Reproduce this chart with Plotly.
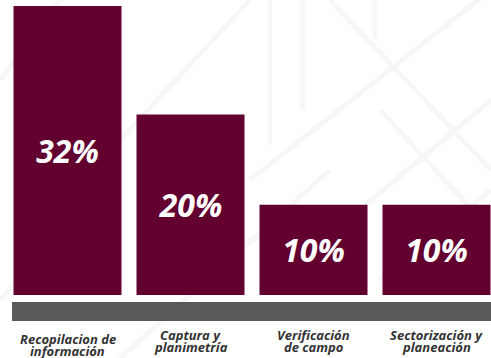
import plotly.graph_objects as go

# ---- data ----
categories = ["Recopilacion de<br>información", "Captura y<br>planimetría",
              "Verificación<br>de campo", "Sectorización y<br>planeación"]
values = [32, 20, 10, 10]

# ---- style ----
W, H = 491, 358
bar_color = "#620030"
band_color = "#595959"
label_color = "#333333"
font_family = "Open Sans, DejaVu Sans, sans-serif"
plot_left, plot_right, plot_top, plot_bottom = 6, 491, 6, 295
label_dy = [4, 0, 0, 0]  # pixel offset of each label block


def px_x(p):
    return (p - plot_left) / (plot_right - plot_left)


def px_y(p):
    return (plot_bottom - p) / (plot_bottom - plot_top)


fig = go.Figure(go.Bar(
    x=list(range(len(categories))),
    y=values,
    width=0.878,
    marker=dict(color=bar_color, line=dict(width=0)),
    texttemplate="%{y}%",
    textposition="inside",
    insidetextanchor="middle",
    textangle=0,
    constraintext="none",
    textfont=dict(family=font_family, size=32, color="white",
                  weight="bold", style="italic"),
    hoverinfo="skip",
))

shapes = []
# faint background pattern
pattern = [
    (270, 0, 270, 145), (303, 0, 303, 110), (375, 0, 375, 40),
    (330, 0, 491, 170), (250, 180, 491, -10), (300, 260, 491, 100),
    (380, 280, 491, 190), (120, 140, 250, 0), (0, 80, 60, 0),
    (0, 300, 120, 160), (120, 358, 330, 170), (380, 110, 491, 230),
]
for x0, y0, x1, y1 in pattern:
    shapes.append(dict(type="line", xref="paper", yref="paper",
                       x0=px_x(x0), y0=px_y(y0), x1=px_x(x1), y1=px_y(y1),
                       line=dict(color="#f7f7f7", width=5), layer="below"))
# gray band under bars
shapes.append(dict(type="rect", xref="paper", yref="paper",
                   x0=px_x(12), x1=px_x(495), y0=px_y(321), y1=px_y(302),
                   fillcolor=band_color, line=dict(width=0), layer="above"))

annotations = []
for i, cat in enumerate(categories):
    lines = cat.split("<br>")
    for j, line in enumerate(lines):
        annotations.append(dict(
            x=i, xref="x", y=px_y(335 + 12 * j + label_dy[i]), yref="paper",
            text=line, showarrow=False, xanchor="center", yanchor="middle",
            font=dict(family=font_family, size=13, color=label_color,
                      weight="bold", style="italic"),
        ))

fig.update_layout(
    width=W, height=H,
    margin=dict(l=plot_left, r=W - plot_right, t=plot_top, b=H - plot_bottom),
    paper_bgcolor="white", plot_bgcolor="rgba(0,0,0,0)",
    showlegend=False,
    xaxis=dict(range=[-0.5, 3.443], visible=False, fixedrange=True),
    yaxis=dict(range=[0, 32], visible=False, fixedrange=True),
    shapes=shapes,
    annotations=annotations,
)

fig.write_html("out.html", config={"displayModeBar": False},
               post_script="document.body.style.margin='0';document.body.style.padding='0';")
